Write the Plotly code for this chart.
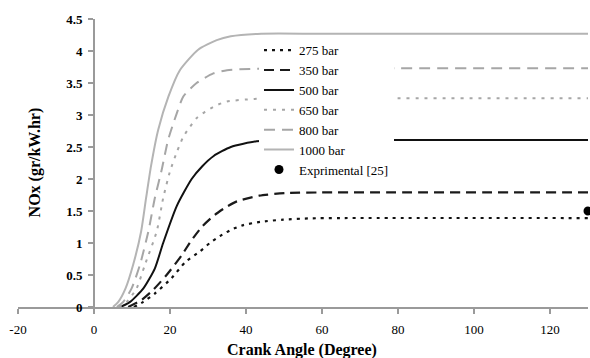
import plotly.graph_objects as go

# ---- data ----
x_275 = [10.5, 13, 16, 20.4, 24, 27.9, 30.5, 33.2, 36.2, 39.3, 43.7, 49.8, 56.8, 65, 130]
y_275 = [0, 0.08, 0.21, 0.45, 0.70, 0.87, 1.00, 1.11, 1.21, 1.28, 1.33, 1.365, 1.385, 1.39, 1.39]

x_350 = [9, 12.5, 15.6, 19.1, 23.1, 25.5, 28.5, 31.8, 35, 37.6, 43.5, 50.3, 60, 130]
y_350 = [0, 0.11, 0.27, 0.50, 0.81, 1.03, 1.26, 1.44, 1.57, 1.65, 1.74, 1.78, 1.79, 1.79]

x_500 = [7, 9.5, 13, 16, 18.2, 21.8, 25.7, 28.5, 31.5, 36, 42.8, 50, 130]
y_500 = [0, 0.08, 0.29, 0.60, 1.0, 1.58, 2.0, 2.2, 2.36, 2.5, 2.59, 2.61, 2.61]

x_650 = [6.5, 8.6, 11.2, 13.4, 16.5, 18.2, 20, 21.8, 23.5, 25.3, 27, 29.2, 31.8, 34.9, 42, 50, 130]
y_650 = [0, 0.08, 0.29, 0.66, 1.18, 1.70, 2.12, 2.42, 2.66, 2.82, 2.95, 3.05, 3.14, 3.21, 3.25, 3.26, 3.26]

x_800 = [6, 7.7, 9.9, 12.1, 14.3, 16.0, 17.8, 19.5, 21.8, 23.5, 27, 31.4, 35, 41, 50, 130]
y_800 = [0, 0.08, 0.29, 0.66, 1.18, 1.70, 2.14, 2.61, 3.03, 3.29, 3.50, 3.65, 3.70, 3.72, 3.73, 3.73]

x_1000 = [5, 6.4, 8.3, 10.3, 12.4, 13.7, 15.0, 16.9, 19.6, 22.6, 27.4, 32.3, 36, 44, 60, 130]
y_1000 = [0, 0.08, 0.29, 0.66, 1.18, 1.70, 2.2, 2.77, 3.29, 3.70, 4.02, 4.17, 4.23, 4.27, 4.27, 4.27]

x_exp = [130]
y_exp = [1.5]

x_ticks = [-20, 0, 20, 40, 60, 80, 100, 120]
x_tick_text = ["-20", "0", "20", "40", "60", "80", "100", "120"]
y_ticks = [0, 0.5, 1, 1.5, 2, 2.5, 3, 3.5, 4, 4.5]
y_tick_text = ["0", "0.5", "1", "1.5", "2", "2.5", "3", "3.5", "4", "4.5"]

FONT = "Liberation Serif"
AX = "#9a9a9a"

series = [
    ("275 bar", x_275, y_275, "#111111", "3px,5px", 2.2),
    ("350 bar", x_350, y_350, "#1a1a1a", "10px,6px", 2.2),
    ("500 bar", x_500, y_500, "#111111", "solid", 2.0),
    ("650 bar", x_650, y_650, "#a6a6a6", "3px,6px", 2.0),
    ("800 bar", x_800, y_800, "#a6a6a6", "11px,7px", 2.0),
    ("1000 bar", x_1000, y_1000, "#b4b4b4", "solid", 2.0),
]

fig = go.Figure()
for name, xs, ys, col, dash, w in series:
    fig.add_trace(go.Scatter(
        x=xs, y=ys, mode="lines", name=name,
        line=dict(color=col, dash=dash, width=w, shape="spline", smoothing=0.6),
    ))

fig.add_trace(go.Scatter(
    x=x_exp, y=y_exp, mode="markers", name="Exprimental [25]",
    marker=dict(color="black", size=9, symbol="circle"), cliponaxis=False,
))

fig.update_layout(
    width=590, height=358,
    margin=dict(l=18, r=2, t=19, b=51),
    paper_bgcolor="white", plot_bgcolor="white",
    font=dict(family=FONT, color="black", size=13),
    showlegend=True,
    legend=dict(
        x=0.4228, y=0.944, xanchor="left", yanchor="top",
        bgcolor="white", borderwidth=0,
        font=dict(family=FONT, size=13, color="black"),
        tracegroupgap=0,
    ),
    xaxis=dict(
        range=[-20, 130], tickvals=x_ticks, ticktext=x_tick_text,
        showline=True, linecolor=AX, linewidth=2,
        ticks="outside", ticklen=5, tickcolor=AX, tickwidth=1.5,
        showgrid=False, zeroline=False,
        tickfont=dict(family=FONT, size=13, color="black"),
        ticklabelstandoff=4,
    ),
    yaxis=dict(
        range=[0, 4.5], tickvals=y_ticks, ticktext=y_tick_text,
        anchor="free", position=20 / 150,
        showline=True, linecolor=AX, linewidth=2,
        ticks="outside", ticklen=5, tickcolor=AX, tickwidth=1.5,
        showgrid=False, zeroline=False,
        tickfont=dict(family=FONT, size=13, color="black", weight="bold"),
        ticklabelstandoff=3,
    ),
    annotations=[
        dict(text="<b>NOx (gr/kW.hr)</b>", xref="paper", yref="paper",
             x=0.0298, y=0.502, xanchor="center", yanchor="middle",
             textangle=-90, showarrow=False,
             font=dict(family=FONT, size=16, color="black")),
        dict(text="<b>Crank Angle (Degree)</b>", xref="paper", yref="paper",
             x=0.498, y=-0.149, xanchor="center", yanchor="middle",
             showarrow=False,
             font=dict(family=FONT, size=16, color="black")),
    ],
)

fig.write_html("out.html")
